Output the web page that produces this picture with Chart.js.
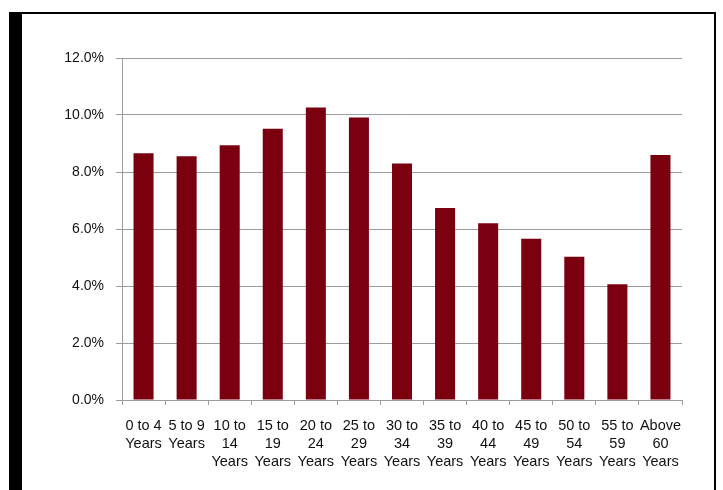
<!DOCTYPE html>
<html>
<head>
<meta charset="utf-8">
<script src="https://cdn.jsdelivr.net/npm/chart.js@4/dist/chart.umd.min.js"></script>
<style>
  html, body { margin: 0; padding: 0; background: #fff; }
  #wrap { position: relative; width: 723px; height: 490px; }
  #frame {
    position: absolute; left: 9px; top: 12px; width: 707px; height: 480px;
    border-top: 2px solid #000; border-right: 2px solid #000; border-left: 13px solid #000;
    box-sizing: border-box;
  }
  canvas { position: absolute; left: 0; top: 0; }
</style>
</head>
<body>
<div id="wrap">
  <div id="frame"></div>
  <canvas id="ageChart" width="723" height="490"></canvas>
</div>
<script>
const ageGroups = [
  ["0 to 4", "Years"], ["5 to 9", "Years"], ["10 to", "14", "Years"], ["15 to", "19", "Years"],
  ["20 to", "24", "Years"], ["25 to", "29", "Years"], ["30 to", "34", "Years"], ["35 to", "39", "Years"],
  ["40 to", "44", "Years"], ["45 to", "49", "Years"], ["50 to", "54", "Years"], ["55 to", "59", "Years"],
  ["Above", "60", "Years"]
];
const sharePct = [8.66, 8.55, 8.94, 9.52, 10.26, 9.91, 8.30, 6.74, 6.20, 5.66, 5.03, 4.06, 8.60];
const yTicks = [0, 2, 4, 6, 8, 10, 12];

const ctx = document.getElementById("ageChart");

new Chart(ctx, {
  type: "bar",
  data: {
    labels: ageGroups,
    datasets: [
      {
        data: sharePct,
        backgroundColor: "#7a0010",
        borderWidth: 0,
        categoryPercentage: 1,
        barPercentage: 0.465,
      },
    ],
  },
  options: {
    responsive: false,
    animation: false,
    layout: { padding: { left: 22, right: 41, top: 58, bottom: 0 } },
    plugins: {
      legend: { display: false },
      tooltip: { enabled: false },
    },
    scales: {
      x: {
        afterFit: (s) => { s.height = 90; },
        border: { color: "#9c9c9c", width: 1 },
        grid: { drawOnChartArea: false, drawTicks: true, tickLength: 5, color: "#9c9c9c", offset: true },
        ticks: {
          color: "#111",
          padding: 12,
          maxRotation: 0,
          autoSkip: false,
          font: { family: "'Liberation Sans', Arial, sans-serif", size: 14.5, lineHeight: 1.25 },
        },
      },
      y: {
        min: yTicks[0],
        max: yTicks[yTicks.length - 1],
        afterFit: (s) => { s.width = 100; },
        afterBuildTicks: (s) => { s.ticks = yTicks.map((v) => ({ value: v })); },
        border: { color: "#9c9c9c", width: 1 },
        grid: { color: "#9c9c9c", lineWidth: 1, tickLength: 6 },
        ticks: {
          color: "#111",
          padding: 12,
          font: { family: "'Liberation Sans', Arial, sans-serif", size: 14 },
          callback: (v) => v.toFixed(1) + "%",
        },
      },
    },
  },
});
</script>
</body>
</html>
